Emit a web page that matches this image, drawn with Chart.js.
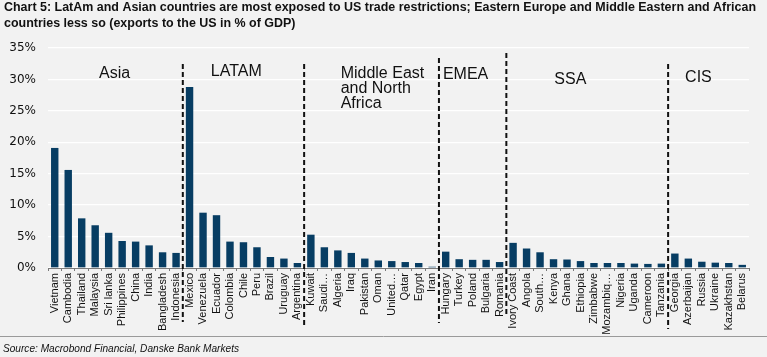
<!DOCTYPE html>
<html>
<head>
<meta charset="utf-8">
<script src="https://cdn.jsdelivr.net/npm/chart.js@4.4.1/dist/chart.umd.min.js"></script>
<style>
  html, body { margin: 0; padding: 0; background: #f2f2f2; }
  #wrap { position: relative; width: 767px; height: 357px; }
</style>
</head>
<body>
<div id="wrap"><canvas id="c" width="767" height="357"></canvas></div>
<script>
// ---- Data ----
const countries = [
  "Vietnam","Cambodia","Thailand","Malaysia","Sri lanka","Philippines","China","India","Bangladesh","Indonesia",
  "Mexico","Venezuela","Ecuador","Colombia","Chile","Peru","Brazil","Uruguay","Argentina",
  "Kuwait","Saudi…","Algeria","Iraq","Pakistan","Oman","United…","Qatar","Egypt","Iran",
  "Hungary","Turkey","Poland","Bulgaria","Romania",
  "Ivory Coast","Angola","South…","Kenya","Ghana","Ethiopia","Zimbabwe","Mozambiq…","Nigeria","Uganda","Cameroon","Tanzania",
  "Georgia","Azerbaijan","Russia","Ukraine","Kazakhstan","Belarus"
];
const exportsToUS = [
  19.1, 15.6, 7.9, 6.8, 5.6, 4.3, 4.2, 3.6, 2.5, 2.4,
  28.8, 8.8, 8.4, 4.2, 4.1, 3.3, 1.75, 1.5, 0.8,
  5.3, 3.3, 2.8, 2.4, 1.5, 1.2, 1.1, 0.95, 0.8, 0.2,
  2.6, 1.4, 1.3, 1.3, 0.95,
  4.0, 3.1, 2.5, 1.4, 1.35, 1.1, 0.8, 0.8, 0.8, 0.7, 0.65, 0.7,
  2.3, 1.5, 1.0, 0.85, 0.8, 0.5
];
const groupNames = ["Asia", "LATAM", "Middle East\nand North\nAfrica", "EMEA", "SSA", "CIS"];
const groupSizes = [10, 9, 10, 5, 12, 6];
const yTicks = [0, 5, 10, 15, 20, 25, 30, 35];

const titleLines = [
  "Chart 5: LatAm and Asian countries are most exposed to US trade restrictions; Eastern Europe and Middle Eastern and African",
  "countries less so (exports to the US in % of GDP)"
];
const sourceText = "Source: Macrobond Financial, Danske Bank Markets";

// ---- Layout / style (annotation placement) ----
const groupLabelStyle = [
  { dx: 51,  y: 78 },
  { dx: 28,  y: 76 },
  { dx: 36.5, y: 77.5 },
  { dx: 4,   y: 79 },
  { dx: 48,  y: 84 },
  { dx: 17,  y: 82 }
];
const dividerStyle = [
  { top: 64, bottom: 322 },
  { top: 64, bottom: 327 },
  { top: 58, bottom: 323 },
  { top: 53, bottom: 315 },
  { top: 64, bottom: 329 }
];

const decorPlugin = {
  id: 'decor',
  beforeDraw(chart) {
    const ctx = chart.ctx;
    ctx.save();
    ctx.fillStyle = '#f2f2f2';
    ctx.fillRect(0, 0, chart.width, chart.height);
    ctx.fillStyle = '#111';
    ctx.font = 'bold 12px "Liberation Sans", Arial, sans-serif';
    ctx.textBaseline = 'alphabetic';
    ctx.textAlign = 'left';
    const w1 = ctx.measureText(titleLines[0]).width;
    const k = 752 / w1;
    titleLines.forEach((ln, i) => {
      ctx.save();
      ctx.translate(4, i === 0 ? 11 : 26.5);
      ctx.scale(k, 1);
      ctx.fillText(ln, 0, 0);
      ctx.restore();
    });
    // bottom separator
    ctx.strokeStyle = '#9a9a9a';
    ctx.lineWidth = 1;
    ctx.beginPath();
    ctx.moveTo(0, 336.5);
    ctx.lineTo(chart.width, 336.5);
    ctx.stroke();
    ctx.fillStyle = '#111';
    ctx.font = 'italic 10.5px "Liberation Sans", Arial, sans-serif';
    ctx.fillText(sourceText, 3, 352, 236);
    ctx.restore();
  },
  afterDraw(chart) {
    const ctx = chart.ctx;
    const xs = chart.scales.x;
    ctx.save();
    // dividers
    ctx.strokeStyle = '#111';
    ctx.lineWidth = 2;
    ctx.setLineDash([5, 3]);
    let idx = 0;
    for (let g = 0; g < groupSizes.length - 1; g++) {
      idx += groupSizes[g];
      const x = (xs.getPixelForValue(idx - 1) + xs.getPixelForValue(idx)) / 2;
      ctx.beginPath();
      ctx.moveTo(x, dividerStyle[g].top);
      ctx.lineTo(x, dividerStyle[g].bottom);
      ctx.stroke();
    }
    ctx.setLineDash([]);
    // group labels
    ctx.fillStyle = '#111';
    ctx.font = '16px "Liberation Sans", Arial, sans-serif';
    ctx.textAlign = 'left';
    ctx.textBaseline = 'alphabetic';
    let start = 0;
    for (let g = 0; g < groupSizes.length; g++) {
      let x0;
      if (start === 0) x0 = chart.chartArea.left;
      else x0 = (xs.getPixelForValue(start - 1) + xs.getPixelForValue(start)) / 2;
      const lines = groupNames[g].split('\n');
      lines.forEach((ln, i) => {
        ctx.fillText(ln, x0 + groupLabelStyle[g].dx, groupLabelStyle[g].y + i * 15.2);
      });
      start += groupSizes[g];
    }
    ctx.restore();
  }
};

new Chart(document.getElementById('c'), {
  type: 'bar',
  data: {
    labels: countries,
    datasets: [{
      data: exportsToUS,
      backgroundColor: '#073d63',
      borderWidth: 0,
      barPercentage: 0.55,
      categoryPercentage: 1.0
    }]
  },
  options: {
    responsive: false,
    animation: false,
    devicePixelRatio: 1,
    layout: { padding: { left: 0, right: 18, top: 48, bottom: 0 } },
    plugins: { legend: { display: false }, tooltip: { enabled: false }, title: { display: false } },
    scales: {
      x: {
        type: 'category',
        offset: true,
        grid: { offset: true, drawOnChartArea: false, drawTicks: true, tickLength: 3, color: '#7a7a7a' },
        border: { display: true, color: '#7a7a7a', width: 1 },
        ticks: {
          autoSkip: false, maxRotation: 90, minRotation: 90, padding: 2,
          color: '#111', font: { family: '"Liberation Sans", Arial, sans-serif', size: 11 }
        },
        afterFit(scale) { scale.height = 89; }
      },
      y: {
        min: 0, max: 35,
        afterBuildTicks(scale) { scale.ticks = yTicks.map(v => ({ value: v })); },
        grid: { color: '#ffffff', lineWidth: 1.3, drawTicks: false },
        border: { display: false },
        ticks: {
          padding: 12, color: '#111',
          font: { family: '"DejaVu Sans", sans-serif', size: 12 },
          callback: v => v + '%'
        },
        afterFit(scale) { scale.width = 48; }
      }
    }
  },
  plugins: [decorPlugin]
});
</script>
</body>
</html>
